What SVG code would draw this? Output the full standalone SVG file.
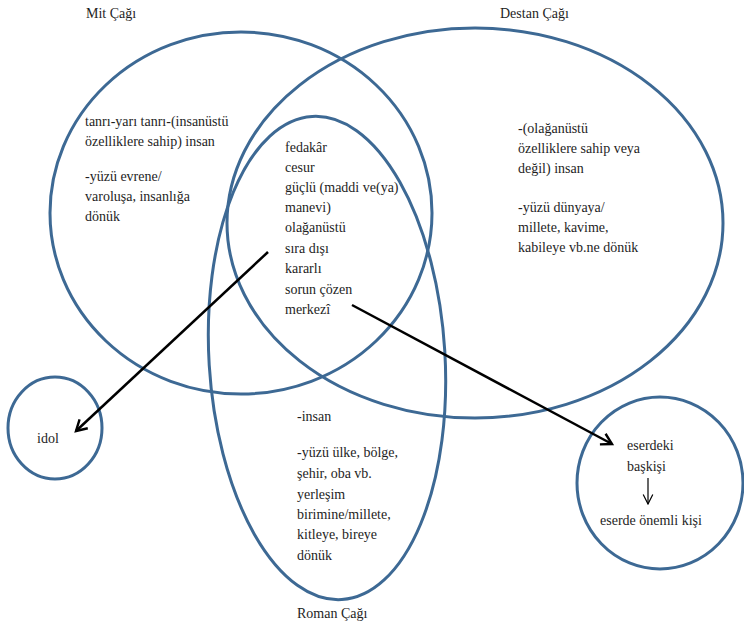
<svg xmlns="http://www.w3.org/2000/svg" width="744" height="626" viewBox="0 0 744 626" font-family="'Liberation Serif', 'DejaVu Serif', serif">
<style>
.c{fill:none;stroke:#3d6994;stroke-width:3}
text{font-family:'Liberation Serif','DejaVu Serif',serif;font-size:14px;fill:#1e1e1e}
.a{stroke:#000;stroke-width:2.5;fill:none}
</style>
<defs>
<marker id="ah" viewBox="0 0 10 10" refX="8" refY="5" markerWidth="6" markerHeight="6" orient="auto" markerUnits="strokeWidth">
<path d="M1,1 L8,5 L1,9" fill="none" stroke="#000" stroke-width="1.6"/>
</marker>
<marker id="ah2" viewBox="0 0 10 10" refX="9" refY="5" markerWidth="10" markerHeight="10" orient="auto" markerUnits="strokeWidth">
<path d="M1,1 L9,5 L1,9" fill="none" stroke="#000" stroke-width="1"/>
</marker>
</defs>
<rect width="744" height="626" fill="#fff"/>
<g id="mit">
<ellipse class="c" cx="241" cy="213" rx="191" ry="181"/>
<text x="86" y="18">Mit Çağı</text>
<text x="85" y="126">tanrı-yarı tanrı-(insanüstü</text>
<text x="85" y="146">özelliklere sahip) insan</text>
<text x="85" y="181">-yüzü evrene/</text>
<text x="85" y="201">varoluşa, insanlığa</text>
<text x="85" y="221">dönük</text>
</g>
<g id="destan">
<ellipse class="c" cx="475" cy="223" rx="248" ry="195"/>
<text x="500" y="18">Destan Çağı</text>
<text x="518" y="133">-(olağanüstü</text>
<text x="518" y="153">özelliklere sahip veya</text>
<text x="518" y="173">değil) insan</text>
<text x="518" y="212">-yüzü dünyaya/</text>
<text x="518" y="232">millete, kavime,</text>
<text x="518" y="252">kabileye vb.ne dönük</text>
</g>
<g id="roman">
<ellipse class="c" cx="327" cy="358" rx="118" ry="242" transform="rotate(-3.5 327 358)"/>
<text x="297" y="618">Roman Çağı</text>
<text x="297" y="421">-insan</text>
<text x="297" y="457">-yüzü ülke, bölge,</text>
<text x="297" y="478">şehir, oba vb.</text>
<text x="297" y="499">yerleşim</text>
<text x="297" y="519">birimine/millete,</text>
<text x="297" y="539">kitleye, bireye</text>
<text x="297" y="560">dönük</text>
</g>
<g id="ortak">
<text x="285" y="152">fedakâr</text>
<text x="285" y="172">cesur</text>
<text x="285" y="192">güçlü (maddi ve(ya)</text>
<text x="285" y="212">manevi)</text>
<text x="285" y="232">olağanüstü</text>
<text x="285" y="253">sıra dışı</text>
<text x="285" y="273">kararlı</text>
<text x="285" y="294">sorun çözen</text>
<text x="285" y="314">merkezî</text>
</g>
<g id="idol">
<ellipse class="c" cx="55" cy="428" rx="47" ry="51"/>
<text x="37" y="443">idol</text>
</g>
<g id="baskisi">
<ellipse class="c" cx="660" cy="483" rx="83" ry="86"/>
<text x="627" y="450">eserdeki</text>
<text x="627" y="471">başkişi</text>
<text x="600" y="525">eserde önemli kişi</text>
</g>
<g id="connectors">
<line class="a" x1="268" y1="252" x2="76" y2="431" marker-end="url(#ah)"/>
<line class="a" x1="352" y1="305" x2="612" y2="444" marker-end="url(#ah)"/>
<line x1="648" y1="478" x2="648" y2="504" stroke="#000" stroke-width="1.2" marker-end="url(#ah2)"/>
</g>
</svg>
